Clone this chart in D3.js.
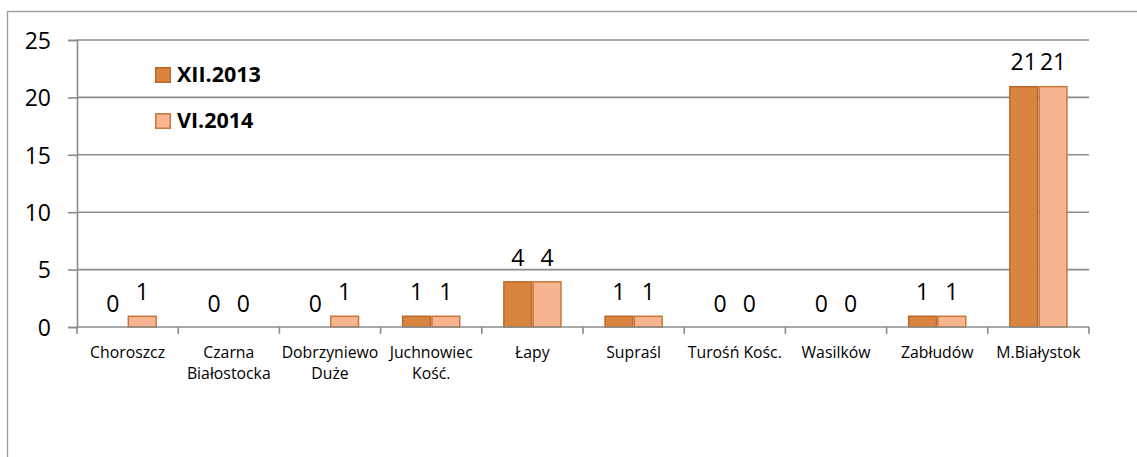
<!DOCTYPE html>
<html><head><meta charset="utf-8">
<script src="https://cdn.jsdelivr.net/npm/d3@7"></script>
<style>
html,body{margin:0;padding:0;background:#fff;}
svg{display:block;font-family:"Open Sans",sans-serif;}
</style></head>
<body>
<script>
const categories = ["Choroszcz","Czarna Białostocka","Dobrzyniewo Duże","Juchnowiec Kość.","Łapy","Supraśl","Turośń Kośc.","Wasilków","Zabłudów","M.Białystok"];
const seriesNames = ["XII.2013","VI.2014"];
const valuesXII2013 = [0,0,0,1,4,1,0,0,1,21];
const valuesVI2014  = [1,0,1,1,4,1,0,0,1,21];
const yTicks = [0,5,10,15,20,25];
const colors = ["#D9843F","#F9B58F"];
const strokes = ["#B86A2C","#C8773A"];

const W = 1137, H = 457;
const svg = d3.select("body").append("svg").attr("width", W).attr("height", H);

// outer chart border
svg.append("rect").attr("x",7.5).attr("y",11.5).attr("width",1200).attr("height",500)
  .attr("fill","none").attr("stroke","#9a9a9a").attr("stroke-width",1.3);

const mLeft = 77, mRight = 1089, mTop = 40, mBottom = 327;
const x0 = d3.scaleBand().domain(categories).range([mLeft, mRight]).padding(0);
const x1 = d3.scaleBand().domain(seriesNames).range([0, x0.bandwidth()]).paddingInner(0).paddingOuter(0.727);
const y = d3.scaleLinear().domain([0,25]).range([mBottom, mTop]);

// gridlines
svg.append("g").selectAll("line").data(yTicks.filter(d=>d>0)).join("line")
  .attr("x1", mLeft).attr("x2", mRight).attr("y1", d=>y(d)).attr("y2", d=>y(d))
  .attr("stroke","#8c8c8c").attr("stroke-width",1.6);

// y axis
const yAxis = svg.append("g").attr("transform",`translate(${mLeft},0)`)
  .call(d3.axisLeft(y).tickValues(yTicks).tickSize(9).tickPadding(17).tickFormat(d3.format("d")));
yAxis.select(".domain").attr("stroke","#8c8c8c").attr("stroke-width",1.6);
yAxis.selectAll(".tick line").attr("stroke","#8c8c8c").attr("stroke-width",1.6);
yAxis.selectAll(".tick text").attr("font-size",23).attr("fill","#000").attr("font-family","Open Sans").attr("dy","0.36em");

// bars
const data = seriesNames.map((s,i)=>({name:s, idx:i, values: i===0?valuesXII2013:valuesVI2014}));
const gBars = svg.append("g");
data.forEach(s=>{
  categories.forEach((c,j)=>{
    const v = s.values[j];
    const bx = x0(c)+x1(s.name);
    if (v>0) {
      gBars.append("rect").attr("x",bx+0.75).attr("y",y(v)+0.75)
        .attr("width",x1.bandwidth()-1.5).attr("height",y(0)-y(v)-0.75)
        .attr("fill",colors[s.idx]).attr("stroke",strokes[s.idx]).attr("stroke-width",1.5);
    }
    gBars.append("text").attr("x",bx+x1.bandwidth()/2).attr("y",y(v)-15.5)
      .attr("text-anchor","middle").attr("font-size",23).attr("fill","#000").text(v);
  });
});

// x axis
svg.append("line").attr("x1",mLeft).attr("x2",mRight).attr("y1",mBottom).attr("y2",mBottom)
  .attr("stroke","#8c8c8c").attr("stroke-width",1.6);
const xTickPos = categories.map(c=>x0(c)).concat([mRight]);
svg.append("g").selectAll("line").data(xTickPos).join("line")
  .attr("x1",d=>d).attr("x2",d=>d).attr("y1",mBottom).attr("y2",mBottom+7)
  .attr("stroke","#8c8c8c").attr("stroke-width",1.6);

// category labels with wrapping
const gCat = svg.append("g");
categories.forEach(c=>{
  const cx = x0(c)+x0.bandwidth()/2;
  const t = gCat.append("text").attr("x",cx).attr("y",357.5).attr("text-anchor","middle")
    .attr("font-size",15.8).attr("fill","#000");
  t.text(c);
  if (t.node().getComputedTextLength() > x0.bandwidth()-2 && c.includes(" ")) {
    const words = c.split(" ");
    t.text(null);
    t.append("tspan").attr("x",cx).attr("dy",0).text(words[0]);
    t.append("tspan").attr("x",cx).attr("dy",21.5).text(words.slice(1).join(" "));
  }
});

// legend
const lg = svg.append("g");
seriesNames.forEach((s,i)=>{
  const ly = 67 + i*46;
  lg.append("rect").attr("x",155.75).attr("y",ly+0.75).attr("width",14.5).attr("height",14.5)
    .attr("fill",colors[i]).attr("stroke",strokes[i]).attr("stroke-width",1.5);
  lg.append("text").attr("x",177).attr("y",ly+15).attr("font-size",21.5).attr("font-weight","bold")
    .attr("fill","#000").text(s);
});
</script>
</body></html>
